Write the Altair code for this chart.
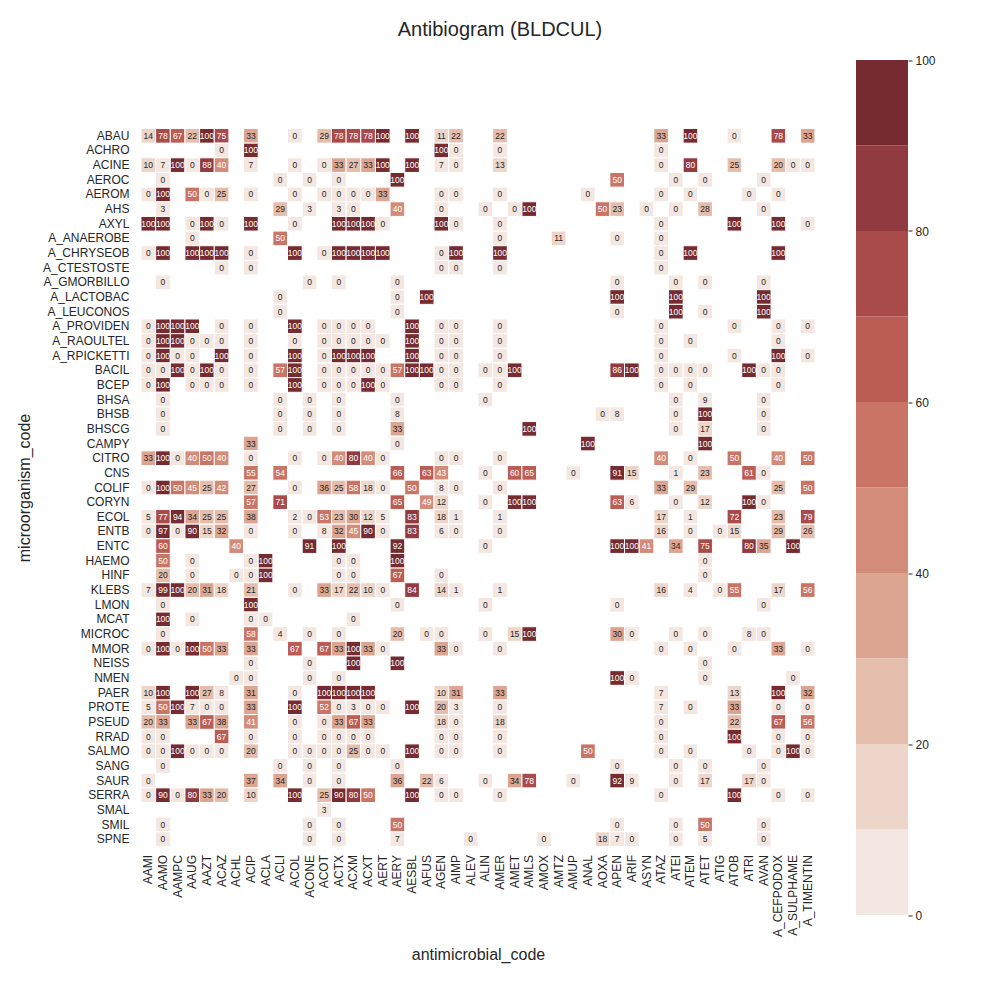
import altair as alt
import pandas as pd

antimicrobials = ["AAMI", "AAMO", "AAMPC", "AAUG", "AAZT", "ACAZ", "ACHL", "ACIP", "ACLA", "ACLI",
                  "ACOL", "ACONE", "ACOT", "ACTX", "ACXM", "ACXT", "AERT", "AERY", "AESBL", "AFUS",
                  "AGEN", "AIMP", "ALEV", "ALIN", "AMER", "AMET", "AMLS", "AMOX", "AMTZ", "AMUP",
                  "ANAL", "AOXA", "APEN", "ARIF", "ASYN", "ATAZ", "ATEI", "ATEM", "ATET", "ATIG",
                  "ATOB", "ATRI", "AVAN", "A_CEFPODOX", "A_SULPHAME", "A_TIMENTIN"]

organisms = ["ABAU", "ACHRO", "ACINE", "AEROC", "AEROM", "AHS", "AXYL", "A_ANAEROBE", "A_CHRYSEOB",
             "A_CTESTOSTE", "A_GMORBILLO", "A_LACTOBAC", "A_LEUCONOS", "A_PROVIDEN", "A_RAOULTEL",
             "A_RPICKETTI", "BACIL", "BCEP", "BHSA", "BHSB", "BHSCG", "CAMPY", "CITRO", "CNS", "COLIF",
             "CORYN", "ECOL", "ENTB", "ENTC", "HAEMO", "HINF", "KLEBS", "LMON", "MCAT", "MICROC", "MMOR",
             "NEISS", "NMEN", "PAER", "PROTE", "PSEUD", "RRAD", "SALMO", "SANG", "SAUR", "SERRA", "SMAL",
             "SMIL", "SPNE"]

# susceptibility (%) per organism, keyed by antimicrobial code
ABAU = dict(AAMI=14, AAMO=78, AAMPC=67, AAUG=22, AAZT=100, ACAZ=75, ACIP=33, ACOL=0, ACOT=29, ACTX=78, ACXM=78, ACXT=78, AERT=100, AESBL=100, AGEN=11, AIMP=22, AMER=22, ATAZ=33, ATEM=100, ATOB=0, A_CEFPODOX=78, A_TIMENTIN=33)
ACHRO = dict(ACAZ=0, ACIP=100, AGEN=100, AIMP=0, AMER=0, ATAZ=0)
ACINE = dict(AAMI=10, AAMO=7, AAMPC=100, AAUG=0, AAZT=88, ACAZ=40, ACIP=7, ACOL=0, ACOT=0, ACTX=33, ACXM=27, ACXT=33, AERT=100, AESBL=100, AGEN=7, AIMP=0, AMER=13, ATAZ=0, ATEM=80, ATOB=25, A_CEFPODOX=20, A_SULPHAME=0, A_TIMENTIN=0)
AEROC = dict(AAMO=0, ACLI=0, ACONE=0, ACTX=0, AERY=100, APEN=50, ATEI=0, ATET=0, AVAN=0)
AEROM = dict(AAMI=0, AAMO=100, AAUG=50, AAZT=0, ACAZ=25, ACIP=0, ACOL=0, ACOT=0, ACTX=0, ACXM=0, ACXT=0, AERT=33, AGEN=0, AIMP=0, AMER=0, ANAL=0, ATAZ=0, ATEM=0, ATRI=0, A_CEFPODOX=0)
AHS = dict(AAMO=3, ACLI=29, ACONE=3, ACTX=3, ACXM=0, AERY=40, AGEN=0, ALIN=0, AMET=0, AMLS=100, AOXA=50, APEN=23, ASYN=0, ATEI=0, ATET=28, AVAN=0)
AXYL = dict(AAMI=100, AAMO=100, AAUG=0, AAZT=100, ACAZ=0, ACIP=100, ACOL=0, ACTX=100, ACXM=100, ACXT=100, AERT=0, AGEN=100, AIMP=0, AMER=0, ATAZ=0, ATOB=100, A_CEFPODOX=100, A_TIMENTIN=0)
A_ANAEROBE = dict(AAUG=0, ACLI=50, AMER=0, AMTZ=11, APEN=0, ATAZ=0)
A_CHRYSEOB = dict(AAMI=0, AAMO=100, AAUG=100, AAZT=100, ACAZ=100, ACIP=0, ACOL=100, ACOT=0, ACTX=100, ACXM=100, ACXT=100, AERT=100, AGEN=0, AIMP=100, AMER=100, ATAZ=0, ATEM=100, A_CEFPODOX=100)
A_CTESTOSTE = dict(ACAZ=0, ACIP=0, AGEN=0, AIMP=0, AMER=0, ATAZ=0)
A_GMORBILLO = dict(AAMO=0, ACONE=0, ACTX=0, AERY=0, APEN=0, ATEI=0, ATET=0, AVAN=0)
A_LACTOBAC = dict(ACLI=0, AERY=0, AFUS=100, APEN=100, ATEI=100, AVAN=100)
A_LEUCONOS = dict(ACLI=0, AERY=0, APEN=0, ATEI=100, ATET=0, AVAN=100)
A_PROVIDEN = dict(AAMI=0, AAMO=100, AAMPC=100, AAUG=100, ACAZ=0, ACIP=0, ACOL=100, ACOT=0, ACTX=0, ACXM=0, ACXT=0, AESBL=100, AGEN=0, AIMP=0, AMER=0, ATAZ=0, ATOB=0, A_CEFPODOX=0, A_TIMENTIN=0)
A_RAOULTEL = dict(AAMI=0, AAMO=100, AAMPC=100, AAUG=0, AAZT=0, ACAZ=0, ACIP=0, ACOL=0, ACOT=0, ACTX=0, ACXM=0, ACXT=0, AERT=0, AESBL=100, AGEN=0, AIMP=0, AMER=0, ATAZ=0, ATEM=0, A_CEFPODOX=0)
A_RPICKETTI = dict(AAMI=0, AAMO=100, AAMPC=0, AAUG=0, ACAZ=100, ACIP=0, ACOL=100, ACOT=0, ACTX=100, ACXM=100, ACXT=100, AESBL=100, AGEN=0, AIMP=0, AMER=0, ATAZ=0, ATOB=0, A_CEFPODOX=100, A_TIMENTIN=0)
BACIL = dict(AAMI=0, AAMO=0, AAMPC=100, AAUG=0, AAZT=100, ACAZ=0, ACIP=0, ACLI=57, ACOL=100, ACOT=0, ACTX=0, ACXM=0, ACXT=0, AERT=0, AERY=57, AESBL=100, AFUS=100, AGEN=0, AIMP=0, ALIN=0, AMER=0, AMET=100, APEN=86, ARIF=100, ATAZ=0, ATEI=0, ATEM=0, ATET=0, ATRI=100, AVAN=0, A_CEFPODOX=0)
BCEP = dict(AAMI=0, AAMO=100, AAUG=0, AAZT=0, ACAZ=0, ACIP=0, ACOL=100, ACOT=0, ACTX=0, ACXM=0, ACXT=100, AERT=0, AGEN=0, AIMP=0, AMER=0, ATAZ=0, ATEM=0, A_CEFPODOX=0)
BHSA = dict(AAMO=0, ACLI=0, ACONE=0, ACTX=0, AERY=0, ALIN=0, ATEI=0, ATET=9, AVAN=0)
BHSB = dict(AAMO=0, ACLI=0, ACONE=0, ACTX=0, AERY=8, AOXA=0, APEN=8, ATEI=0, ATET=100, AVAN=0)
BHSCG = dict(AAMO=0, ACLI=0, ACONE=0, ACTX=0, AERY=33, AMLS=100, ATEI=0, ATET=17, AVAN=0)
CAMPY = dict(ACIP=33, AERY=0, ANAL=100, ATET=100)
CITRO = dict(AAMI=33, AAMO=100, AAMPC=0, AAUG=40, AAZT=50, ACAZ=40, ACIP=0, ACOL=0, ACOT=0, ACTX=40, ACXM=80, ACXT=40, AERT=0, AGEN=0, AIMP=0, AMER=0, ATAZ=40, ATEM=0, ATOB=50, A_CEFPODOX=40, A_TIMENTIN=50)
CNS = dict(ACIP=55, ACLI=54, AERY=66, AFUS=63, AGEN=43, ALIN=0, AMET=60, AMLS=65, AMUP=0, APEN=91, ARIF=15, ATEI=1, ATET=23, ATRI=61, AVAN=0)
COLIF = dict(AAMI=0, AAMO=100, AAMPC=50, AAUG=45, AAZT=25, ACAZ=42, ACIP=27, ACOL=0, ACOT=36, ACTX=25, ACXM=58, ACXT=18, AERT=0, AESBL=50, AGEN=8, AIMP=0, AMER=0, ATAZ=33, ATEM=29, A_CEFPODOX=25, A_TIMENTIN=50)
CORYN = dict(ACIP=57, ACLI=71, AERY=65, AFUS=49, AGEN=12, ALIN=0, AMET=100, AMLS=100, APEN=63, ARIF=6, ATEI=0, ATET=12, ATRI=100, AVAN=0)
ECOL = dict(AAMI=5, AAMO=77, AAMPC=94, AAUG=34, AAZT=25, ACAZ=25, ACIP=38, ACOL=2, ACONE=0, ACOT=53, ACTX=23, ACXM=30, ACXT=12, AERT=5, AESBL=83, AGEN=18, AIMP=1, AMER=1, ATAZ=17, ATEM=1, ATOB=72, A_CEFPODOX=23, A_TIMENTIN=79)
ENTB = dict(AAMI=0, AAMO=97, AAMPC=0, AAUG=90, AAZT=15, ACAZ=32, ACIP=0, ACOL=0, ACOT=8, ACTX=32, ACXM=45, ACXT=90, AERT=0, AESBL=83, AGEN=6, AIMP=0, AMER=0, ATAZ=16, ATEM=0, ATIG=0, ATOB=15, A_CEFPODOX=29, A_TIMENTIN=26)
ENTC = dict(AAMO=60, ACHL=40, ACONE=91, ACTX=100, AERY=92, ALIN=0, APEN=100, ARIF=100, ASYN=41, ATEI=34, ATET=75, ATRI=80, AVAN=35, A_SULPHAME=100)
HAEMO = dict(AAMO=50, AAUG=0, ACIP=0, ACLA=100, ACTX=0, ACXM=0, AERY=100, ATET=0)
HINF = dict(AAMO=20, AAUG=0, ACHL=0, ACIP=0, ACLA=100, ACTX=0, ACXM=0, AERY=67, AGEN=0, ATET=0)
KLEBS = dict(AAMI=7, AAMO=99, AAMPC=100, AAUG=20, AAZT=31, ACAZ=18, ACIP=21, ACOL=0, ACOT=33, ACTX=17, ACXM=22, ACXT=10, AERT=0, AESBL=84, AGEN=14, AIMP=1, AMER=1, ATAZ=16, ATEM=4, ATIG=0, ATOB=55, A_CEFPODOX=17, A_TIMENTIN=56)
LMON = dict(AAMO=0, ACIP=100, AERY=0, ALIN=0, APEN=0, AVAN=0)
MCAT = dict(AAMO=100, AAUG=0, ACIP=0, ACLA=0, ACXM=0)
MICROC = dict(AAMO=0, ACIP=58, ACLI=4, ACONE=0, ACTX=0, AERY=20, AFUS=0, AGEN=0, ALIN=0, AMET=15, AMLS=100, APEN=30, ARIF=0, ATEI=0, ATET=0, ATRI=8, AVAN=0)
MMOR = dict(AAMI=0, AAMO=100, AAMPC=0, AAUG=100, AAZT=50, ACAZ=33, ACIP=33, ACOL=67, ACOT=67, ACTX=33, ACXM=100, ACXT=33, AERT=0, AGEN=33, AIMP=0, AMER=0, ATAZ=0, ATEM=0, ATOB=0, A_CEFPODOX=33, A_TIMENTIN=0)
NEISS = dict(ACIP=0, ACONE=0, ACXM=100, AERY=100, ATET=0)
NMEN = dict(ACHL=0, ACIP=0, ACONE=0, ACTX=0, APEN=100, ARIF=0, ATET=0, A_SULPHAME=0)
PAER = dict(AAMI=10, AAMO=100, AAUG=100, AAZT=27, ACAZ=8, ACIP=31, ACOL=0, ACOT=100, ACTX=100, ACXM=100, ACXT=100, AGEN=10, AIMP=31, AMER=33, ATAZ=7, ATOB=13, A_CEFPODOX=100, A_TIMENTIN=32)
PROTE = dict(AAMI=5, AAMO=50, AAMPC=100, AAUG=7, AAZT=0, ACAZ=0, ACIP=33, ACOL=100, ACOT=52, ACTX=0, ACXM=3, ACXT=0, AERT=0, AESBL=100, AGEN=20, AIMP=3, AMER=0, ATAZ=7, ATEM=0, ATOB=33, A_CEFPODOX=0, A_TIMENTIN=0)
PSEUD = dict(AAMI=20, AAMO=33, AAUG=33, AAZT=67, ACAZ=38, ACIP=41, ACOL=0, ACOT=0, ACTX=33, ACXM=67, ACXT=33, AGEN=18, AIMP=0, AMER=18, ATAZ=0, ATOB=22, A_CEFPODOX=67, A_TIMENTIN=56)
RRAD = dict(AAMI=0, AAMO=0, ACAZ=67, ACIP=0, ACOL=0, ACOT=0, ACTX=0, ACXM=0, ACXT=0, AGEN=0, AIMP=0, AMER=0, ATAZ=0, ATOB=100, A_CEFPODOX=0, A_TIMENTIN=0)
SALMO = dict(AAMI=0, AAMO=0, AAMPC=100, AAUG=0, AAZT=0, ACAZ=0, ACIP=20, ACOL=0, ACONE=0, ACOT=0, ACTX=0, ACXM=25, ACXT=0, AERT=0, AESBL=100, AGEN=0, AIMP=0, AMER=0, ANAL=50, ATAZ=0, ATEM=0, ATRI=0, A_CEFPODOX=0, A_SULPHAME=100, A_TIMENTIN=0)
SANG = dict(AAMO=0, ACLI=0, ACONE=0, ACTX=0, AERY=0, APEN=0, ATEI=0, ATET=0, AVAN=0)
SAUR = dict(AAMI=0, ACIP=37, ACLI=34, ACONE=0, ACTX=0, AERY=36, AFUS=22, AGEN=6, ALIN=0, AMET=34, AMLS=78, AMUP=0, APEN=92, ARIF=9, ATEI=0, ATET=17, ATRI=17, AVAN=0)
SERRA = dict(AAMI=0, AAMO=90, AAMPC=0, AAUG=80, AAZT=33, ACAZ=20, ACIP=10, ACOL=100, ACOT=25, ACTX=90, ACXM=80, ACXT=50, AESBL=100, AGEN=0, AIMP=0, AMER=0, ATAZ=0, ATOB=100, A_CEFPODOX=0, A_TIMENTIN=0)
SMAL = dict(ACOT=3)
SMIL = dict(AAMO=0, ACONE=0, ACTX=0, AERY=50, APEN=0, ATEI=0, ATET=50, AVAN=0)
SPNE = dict(AAMO=0, ACONE=0, ACTX=0, AERY=7, ALEV=0, AMOX=0, AOXA=18, APEN=7, ARIF=0, ATEI=0, ATET=5, AVAN=0)

rows = [ABAU, ACHRO, ACINE, AEROC, AEROM, AHS, AXYL, A_ANAEROBE, A_CHRYSEOB, A_CTESTOSTE,
        A_GMORBILLO, A_LACTOBAC, A_LEUCONOS, A_PROVIDEN, A_RAOULTEL, A_RPICKETTI, BACIL, BCEP,
        BHSA, BHSB, BHSCG, CAMPY, CITRO, CNS, COLIF, CORYN, ECOL, ENTB, ENTC, HAEMO, HINF, KLEBS,
        LMON, MCAT, MICROC, MMOR, NEISS, NMEN, PAER, PROTE, PSEUD, RRAD, SALMO, SANG, SAUR, SERRA,
        SMAL, SMIL, SPNE]

bin_colors = ["#f4e6e0", "#edd5ca", "#e5bdad", "#dca591", "#d38c79",
              "#c97464", "#bc5d55", "#a94a4b", "#913a3f", "#752b30"]
bin_lo = [0, 10, 20, 30, 40, 50, 60, 70, 80, 90]
bin_hi = [10, 20, 30, 40, 50, 60, 70, 80, 90, 100]
cbar_ticks = [0, 20, 40, 60, 80, 100]

records = []
for org, row in zip(organisms, rows):
    for code, v in row.items():
        records.append({"organism": org, "antimicrobial": code, "value": v})
df = pd.DataFrame(records)
cb = pd.DataFrame({"lo": bin_lo, "hi": bin_hi})

FONT = "Liberation Sans"
DARK = "#262626"
W, H = 674, 718

color_scale = alt.Scale(type="threshold", domain=bin_lo[1:], range=bin_colors)

x_enc = alt.X("antimicrobial:N", sort=antimicrobials,
              scale=alt.Scale(domain=antimicrobials, paddingInner=0, paddingOuter=0),
              axis=alt.Axis(title="antimicrobial_code", labelAngle=-90, ticks=False, domain=False,
                            labelPadding=8, labelFontSize=12, titleFontSize=16, titlePadding=10,
                            titleFontWeight="normal", labelColor=DARK, titleColor=DARK,
                            labelFont=FONT, titleFont=FONT, grid=False))
y_enc = alt.Y("organism:N", sort=organisms,
              scale=alt.Scale(domain=organisms, paddingInner=0, paddingOuter=0),
              axis=alt.Axis(title="microorganism_code", ticks=False, domain=False,
                            labelPadding=12, labelFontSize=12, titleFontSize=16, titlePadding=10,
                            titleFontWeight="normal", labelColor=DARK, titleColor=DARK,
                            labelFont=FONT, titleFont=FONT, grid=False, orient="left"))

base = alt.Chart(df).encode(x=x_enc, y=y_enc)
cells = base.mark_rect(stroke="white", strokeWidth=1).encode(
    color=alt.Color("value:Q", scale=color_scale, legend=None))
labels = base.mark_text(fontSize=8.5, font=FONT, baseline="middle", align="center").encode(
    text=alt.Text("value:Q", format="d"),
    color=alt.condition(alt.datum.value >= 40, alt.value("white"), alt.value(DARK)))

cbar = alt.Chart(cb).mark_rect().encode(
    y=alt.Y("lo:Q", scale=alt.Scale(domain=[0, 100], range=[786.5, -68.5], zero=False, nice=False),
            axis=alt.Axis(orient="right", offset=93, values=cbar_ticks, domain=False, tickSize=4,
                          tickColor=DARK, labelFontSize=12, labelColor=DARK, labelFont=FONT,
                          title=None, grid=False, labelPadding=3)),
    y2="hi:Q",
    x=alt.value(715), x2=alt.value(767),
    color=alt.Color("lo:Q", scale=color_scale, legend=None))

heat = alt.layer(cells, labels).resolve_scale(color="independent")

chart = alt.layer(heat, cbar).resolve_scale(y="independent", color="independent").resolve_axis(
    y="independent").properties(
    width=W, height=H,
    background="white",
    title=alt.TitleParams("Antibiogram (BLDCUL)", fontSize=20, fontWeight="normal", color=DARK,
                          font=FONT, dx=22, offset=14, anchor="middle"),
    autosize=alt.AutoSizeParams(type="none"),
    padding={"left": 133, "top": 120.5, "right": 170, "bottom": 140},
).configure_view(stroke=None, strokeWidth=0)

chart.save("out.html", embed_options={"renderer": "svg", "actions": False})
